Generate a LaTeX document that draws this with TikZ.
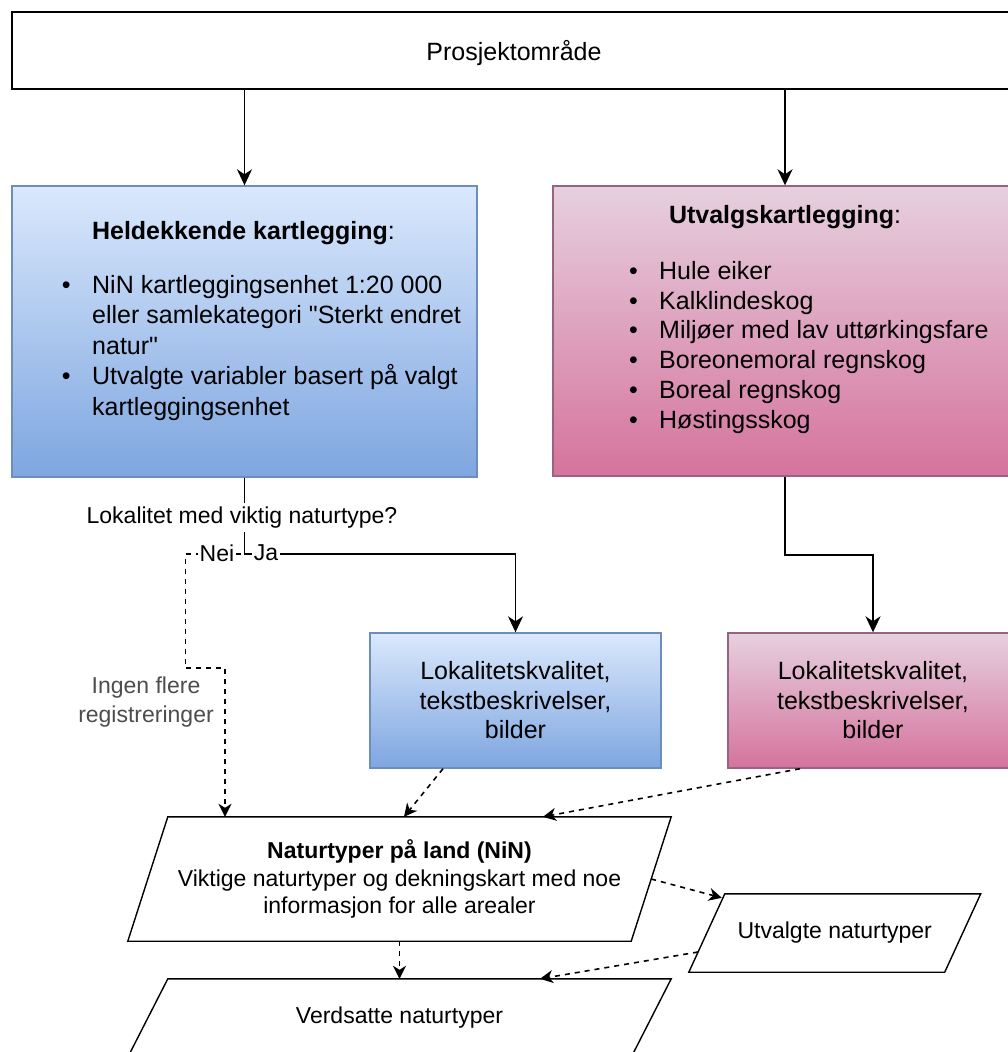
\documentclass[tikz,border=0pt]{standalone}
\usepackage{fontspec}
\setmainfont{Liberation Sans}[Ligatures=TeXOff]
\usetikzlibrary{arrows.meta,calc}
\definecolor{bluetop}{HTML}{DAE8FC}
\definecolor{bluebot}{HTML}{7EA6E0}
\definecolor{bluestroke}{HTML}{6C8EBF}
\definecolor{pinktop}{HTML}{E6D0DE}
\definecolor{pinkbot}{HTML}{D5739D}
\definecolor{pinkstroke}{HTML}{996185}
\definecolor{labelgray}{HTML}{4D4D4D}
\newcommand{\bigfont}{\fontsize{25}{30.5}\selectfont}
\newcommand{\pinkfont}{\fontsize{25}{29.8}\selectfont}
\newcommand{\midfont}{\fontsize{25}{29.5}\selectfont}
\newcommand{\smallfont}{\fontsize{23}{27.5}\selectfont}
\newcommand{\labfont}{\fontsize{23}{29}\selectfont}
\newcommand{\bul}[1]{\makebox[#1][l]{\textbullet}}
\newcommand{\paraframe}[2]{\draw[paraline] ([xshift=#2]#1.north west) -- ([xshift=#2]#1.north east) -- ([xshift=-#2]#1.south east) -- ([xshift=-#2]#1.south west) -- cycle;}
\begin{document}
\begin{tikzpicture}[x=1pt,y=-1pt,
  boxbase/.style={draw, line width=1.4pt, inner sep=0pt, align=center},
  bluebox/.style={boxbase, draw=bluestroke, top color=bluetop, bottom color=bluebot},
  pinkbox/.style={boxbase, draw=pinkstroke, top color=pinktop, bottom color=pinkbot},
  plainbox/.style={boxbase, draw=black, fill=white},
  paranode/.style={inner sep=0pt, align=center, font=\smallfont},
  paraline/.style={draw=black, line width=1.4pt},
  arr/.style={line width=1.8pt, -{Stealth[length=16pt,width=15pt,inset=5pt]}},
  darr/.style={line width=1.6pt, dash pattern=on 5pt off 5pt, -{Stealth[length=13pt,width=13pt,inset=4pt]}},
  lbl/.style={fill=white, inner xsep=2pt, inner ysep=3.5pt, font=\smallfont},
]
\useasboundingbox (0,0) rectangle (1008,1052);
\fill[white] (0,0) rectangle (1008,1052);
\begin{scope}
\clip (0,0) rectangle (1008,1052);

% top box
\node[plainbox, minimum width=1004pt, minimum height=77pt, font=\bigfont, text depth=0pt] (proj) at (514,50.5) {Prosjektområde};

% big boxes
\node[bluebox, minimum width=465pt, minimum height=291pt] (held) at (244.5,331.5) {};
\node[pinkbox, minimum width=464pt, minimum height=290pt] (utv) at (785,331) {};

\node[anchor=base, inner sep=0pt, font=\bigfont] (heldT) at (243.5,239.3) {\textbf{Heldekkende kartlegging}:};
\node[anchor=base west, inner sep=0pt] (heldL) at (61.6,293.3) {\parbox[t]{440pt}{\bigfont\raggedright
\bul{30.4pt}NiN kartleggingsenhet 1:20 000\\
\hspace*{30.4pt}eller samlekategori "Sterkt endret\\
\hspace*{30.4pt}natur"\\
\bul{30.4pt}Utvalgte variabler basert på valgt\\
\hspace*{30.4pt}kartleggingsenhet}};

\node[anchor=base, inner sep=0pt, font=\bigfont] (utvT) at (785,223) {\textbf{Utvalgskartlegging}:};
\node[anchor=base west, inner sep=0pt] (utvL) at (628.9,279.3) {\parbox[t]{440pt}{\pinkfont\raggedright
\bul{30.1pt}Hule eiker\\
\bul{30.1pt}Kalklindeskog\\
\bul{30.1pt}Miljøer med lav uttørkingsfare\\
\bul{30.1pt}Boreonemoral regnskog\\
\bul{30.1pt}Boreal regnskog\\
\bul{30.1pt}Høstingsskog}};

% small boxes
\node[bluebox, minimum width=291pt, minimum height=135pt, font=\midfont] (lok1) at (515.5,700.5) {Lokalitetskvalitet,\\tekstbeskrivelser,\\bilder};
\node[pinkbox, minimum width=290pt, minimum height=135pt, font=\midfont] (lok2) at (873,700.5) {Lokalitetskvalitet,\\tekstbeskrivelser,\\bilder};

% parallelograms
\node[paranode, minimum width=503pt, minimum height=124pt] (nin) at (399.5,879) {\textbf{Naturtyper på land (NiN)}\\Viktige naturtyper og dekningskart med noe\\informasjon for alle arealer};
\paraframe{nin}{20pt}
\node[paranode, minimum width=255.5pt, minimum height=78pt] (utvn) at (834.75,933) {Utvalgte naturtyper};
\paraframe{utvn}{18pt}
\node[paranode, minimum width=503pt, minimum height=78pt] (verd) at (399.5,1018) {Verdsatte naturtyper};
\paraframe{verd}{20pt}

\coordinate (neib) at (225,668);

% connectors
\draw[arr] (proj.south -| held.north) -- (held.north);
\draw[arr] (proj.south -| utv.north) -- (utv.north);
\draw[darr] (held.south) -- ++(0,76) -- ++(-59,0) |- (neib) -- (neib |- nin.north);
\draw[arr] (held.south) -- ++(0,76) -| (lok1.north);
\draw[arr] (utv.south) -- ++(0,78) -| (lok2.north);
\draw[darr] ([xshift=-72.5pt]lok1.south) -- ([xshift=4.5pt]nin.north);
\draw[darr] ([xshift=-73pt]lok2.south) -- ([xshift=143.5pt]nin.north);
\draw[darr] (nin.east) -- ([xshift=15pt,yshift=-4pt]utvn.north west);
\draw[darr] ([xshift=-8.8pt,yshift=-19pt]utvn.west) -- ([xshift=140.5pt]verd.north);
\draw[darr] (nin.south) -- (verd.north);

% labels
\node[lbl] (qlbl) at (242,517.5) {Lokalitet med viktig naturtype?};
\node[lbl] (neilbl) at (217,553) {Nei};
\node[lbl] (jalbl) at (266,553) {Ja};
\node[align=center, inner sep=1pt, font=\labfont, text=labelgray] (ingen) at (146,701.8) {Ingen flere\\registreringer};
\end{scope}
\end{tikzpicture}
\end{document}
